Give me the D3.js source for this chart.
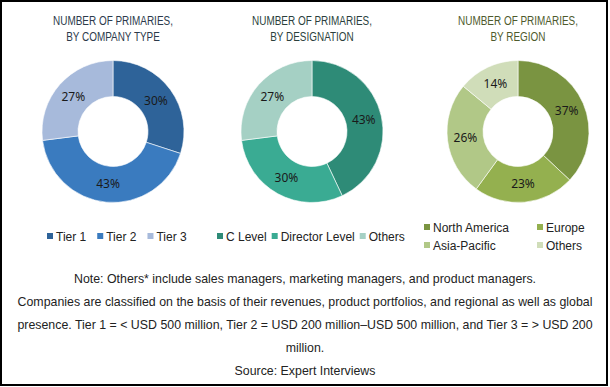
<!DOCTYPE html>
<html>
<head>
<meta charset="utf-8">
<script src="https://cdn.jsdelivr.net/npm/d3@7"></script>
<style>
    body { margin: 0; background: #fff; }
    .title { font-family: 'Liberation Sans', Arial, sans-serif; font-size: 13.5px; }
    .pct { font-family: 'Noto Sans', sans-serif; font-size: 12px; fill: #1a1a1a; }
    .legend { font-family: 'Liberation Sans', Arial, sans-serif; font-size: 12px; fill: #222; }
    .note { font-family: 'Liberation Sans', Arial, sans-serif; font-size: 13px; fill: #222; }
</style>
</head>
<body>
<script>
// data
const companyTypes = ['Tier 1', 'Tier 2', 'Tier 3']
const companyShares = [30, 43, 27]
const companyColors = ['#2e6399', '#3a7bbf', '#a7badb']

const designations = ['C Level', 'Director Level', 'Others']
const designationShares = [43, 30, 27]
const designationColors = ['#2e8b77', '#3aab93', '#a5d0c4']

const regions = ['North America', 'Europe', 'Asia-Pacific', 'Others']
const regionShares = [37, 23, 26, 14]
const regionColors = ['#7a9441', '#94b04f', '#b1c887', '#d0ddb9']

const titles = [
    ['NUMBER OF PRIMARIES,', 'BY COMPANY TYPE'],
    ['NUMBER OF PRIMARIES,', 'BY DESIGNATION'],
    ['NUMBER OF PRIMARIES,', 'BY REGION']
]
const titleColors = ['#2c3a4b', '#2b3f3c', '#4e5a2c']

const notes = [
    'Note: Others* include sales managers, marketing managers, and product managers.',
    'Companies are classified on the basis of their revenues, product portfolios, and regional as well as global',
    'presence. Tier 1 = < USD 500 million, Tier 2 = USD 200 million\u2013USD 500 million, and Tier 3 = > USD 200',
    'million.',
    'Source: Expert Interviews'
]

const width = 610
const height = 387

const svg = d3.select('body').append('svg')
    .attr('width', width)
    .attr('height', height)

// frame
svg.append('rect')
    .attr('x', 1)
    .attr('y', 1)
    .attr('width', 606)
    .attr('height', 384)
    .attr('fill', 'none')
    .attr('stroke', '#000')
    .attr('stroke-width', 2)

const charts = [
    {names: companyTypes, values: companyShares, colors: companyColors, cx: 113},
    {names: designations, values: designationShares, colors: designationColors, cx: 312},
    {names: regions, values: regionShares, colors: regionColors, cx: 518}
]
const cy = 131.5
const outerR = 71
const innerR = 35

charts.forEach((c, i) => {
    // title, narrowed to the condensed look of the original
    const title = svg.append('text')
        .attr('class', 'title')
        .attr('x', c.cx)
        .attr('y', 25)
        .attr('text-anchor', 'middle')
        .attr('fill', titleColors[i])
    title.selectAll('tspan')
        .data(titles[i])
        .join('tspan')
        .attr('x', c.cx)
        .attr('dy', (d, k) => k == 0 ? 0 : 16)
        .text(d => d)
    const firstLine = title.select('tspan').node().getComputedTextLength()
    const k = 120 / firstLine
    title.attr('transform', `translate(${c.cx},0) scale(${k},1) translate(${-c.cx},0)`)

    // donut
    const pie = d3.pie().sort(null).value(d => d)
    const arc = d3.arc().innerRadius(innerR).outerRadius(outerR)
    const labelArc = d3.arc().innerRadius((innerR + outerR) / 2).outerRadius((innerR + outerR) / 2)
    const color = d3.scaleOrdinal().domain(c.names).range(c.colors)

    const g = svg.append('g').attr('transform', `translate(${c.cx},${cy})`)
    const arcs = pie(c.values)
    g.selectAll('path')
        .data(arcs)
        .join('path')
        .attr('d', arc)
        .attr('fill', (d, k) => color(c.names[k]))
        .attr('stroke', '#fff')
        .attr('stroke-width', 0.6)

    g.selectAll('text')
        .data(arcs)
        .join('text')
        .attr('class', 'pct')
        .attr('transform', d => `translate(${labelArc.centroid(d)})`)
        .attr('text-anchor', 'middle')
        .attr('dy', '0.35em')
        .text(d => `${d.data}%`)
})

// legends
function drawRowLegend(names, colors, startX, gap, y) {
    let x = startX
    names.forEach((name, k) => {
        svg.append('rect')
            .attr('x', x)
            .attr('y', y - 3)
            .attr('width', 6)
            .attr('height', 6)
            .attr('fill', colors[k])
        const t = svg.append('text')
            .attr('class', 'legend')
            .attr('x', x + 9)
            .attr('y', y + 4.5)
            .text(name)
        x += 9 + t.node().getComputedTextLength() + gap
    })
}
drawRowLegend(companyTypes, companyColors, 47, 11, 236)
drawRowLegend(designations, designationColors, 217, 5, 236)

// region legend in two columns
const regionCols = [424, 537]
const regionRows = [227, 245]
regions.forEach((name, k) => {
    const x = regionCols[k % 2]
    const y = regionRows[Math.floor(k / 2)]
    svg.append('rect')
        .attr('x', x)
        .attr('y', y - 3)
        .attr('width', 6)
        .attr('height', 6)
        .attr('fill', regionColors[k])
    svg.append('text')
        .attr('class', 'legend')
        .attr('x', x + 9)
        .attr('y', y + 4.5)
        .text(name)
})

// notes
const noteText = svg.selectAll('.note')
    .data(notes)
    .join('text')
    .attr('class', 'note')
    .attr('x', width / 2)
    .attr('y', (d, k) => 283 + k * 23)
    .attr('text-anchor', 'middle')
    .text(d => d)

// one squeeze factor for all notes, taken from the widest line
const noteK = 575 / noteText.nodes()[1].getComputedTextLength()
noteText.attr('transform', `translate(${width / 2},0) scale(${noteK},1) translate(${-width / 2},0)`)
</script>
</body>
</html>
